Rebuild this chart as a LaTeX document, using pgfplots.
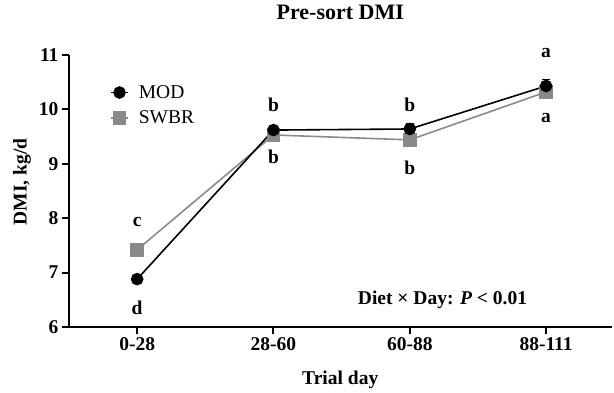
\documentclass[border=0pt]{standalone}
\usepackage{fontspec}
\setmainfont{Liberation Serif}
\usepackage{pgfplots}
\pgfplotsset{compat=1.18}
\definecolor{swgray}{HTML}{8A8A8A}
\newcommand{\tf}{\fontsize{19.5}{22}\selectfont\bfseries}
\begin{document}
\begin{tikzpicture}[x=1pt,y=1pt]
\useasboundingbox (0,0) rectangle (614,393);
\begin{axis}[
  at={(69pt,66pt)}, anchor=south west,
  scale only axis, width=542.5pt, height=272pt,
  xmin=-0.5, xmax=3.48, ymin=6, ymax=11,
  axis x line*=bottom, axis y line*=left,
  axis line style={line width=2.5pt, -},
  xtick={0,1,2,3}, xticklabels={0-28,28-60,60-88,88-111},
  ytick={6,7,8,9,10,11},
  tick align=outside, major tick length=7pt,
  tick style={line width=2pt, black},
  tick label style={font=\tf},
  /pgf/number format/assume math mode=true,
  title={Pre-sort DMI},
  title style={font=\fontsize{22}{26}\selectfont\bfseries, at={(axis description cs:0.5,1.136)}, anchor=center},
  xlabel={Trial day},
  xlabel style={font=\tf, at={(axis description cs:0.5,-0.195)}, anchor=center},
  ylabel={DMI, kg/d},
  ylabel style={font=\tf, at={(axis description cs:-0.0866,0.533)}, anchor=center},
  clip=false,
  legend style={draw=none, fill=none, at={(axis description cs:0.07,0.904)}, anchor=north west, font=\fontsize{19.5}{22}\selectfont, row sep=7pt, column sep=8pt},
  legend cell align=left,
  reverse legend,
]
\addplot[swgray, line width=1.6pt, mark=square*, mark size=6pt, mark options={fill=swgray, draw=swgray},
  error bars/.cd, y dir=both, y explicit, error bar style={line width=1.5pt, swgray}, error mark options={rotate=90, mark size=4pt, line width=1.5pt, swgray}]
  coordinates {(0,7.42) +- (0,0.04) (1,9.53) +- (0,0.04) (2,9.44) +- (0,0.04) (3,10.32) +- (0,0.04)};
\addlegendentry{SWBR}
\addplot[black, line width=1.6pt, mark=*, mark size=5.5pt, mark options={fill=black},
  error bars/.cd, y dir=both, y explicit, error bar style={line width=1.5pt, black}, error mark options={rotate=90, mark size=4pt, line width=1.5pt, black}]
  coordinates {(0,6.88) +- (0,0.05) (1,9.62) +- (0,0.05) (2,9.64) +- (0,0.09) (3,10.43) +- (0,0.12)};
\addlegendentry{MOD}
\node[font=\tf] at (axis cs:0,7.93) {c};
\node[font=\tf] at (axis cs:0,6.35) {d};
\node[font=\tf] at (axis cs:1,10.08) {b};
\node[font=\tf] at (axis cs:1,9.125) {b};
\node[font=\tf] at (axis cs:2,10.08) {b};
\node[font=\tf] at (axis cs:2,8.92) {b};
\node[font=\tf] at (axis cs:3,11.04) {a};
\node[font=\tf] at (axis cs:3,9.84) {a};
\node[font=\tf] at (axis cs:2.24,6.5) {Diet × Day: \textit{P} < 0.01};
\end{axis}
\end{tikzpicture}
\end{document}
